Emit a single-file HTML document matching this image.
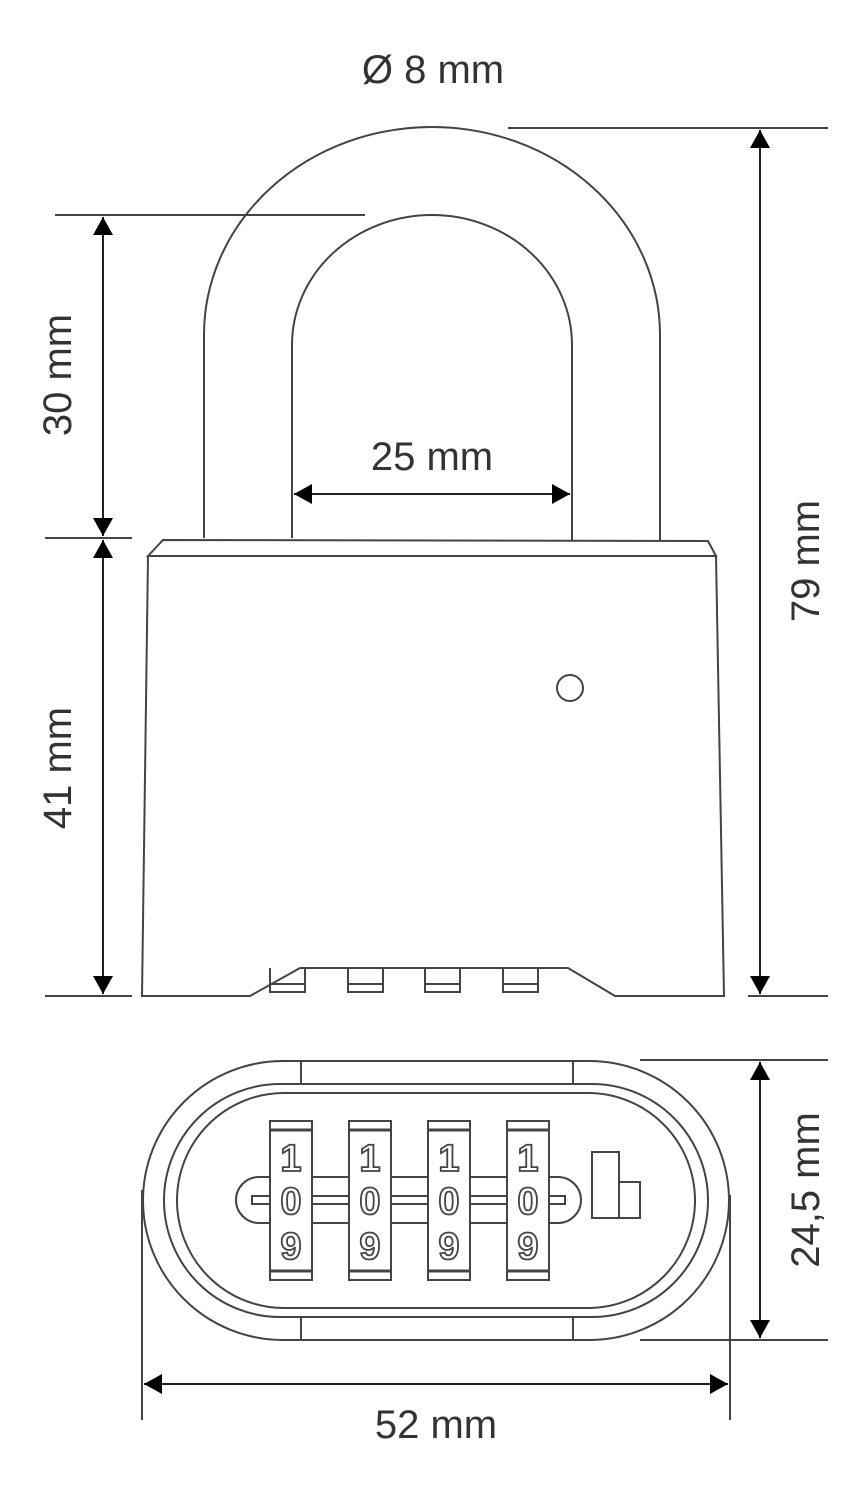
<!DOCTYPE html>
<html><head><style>html,body{margin:0;padding:0;background:#fff}</style></head>
<body>
<svg width="866" height="1500" viewBox="0 0 866 1500" xmlns="http://www.w3.org/2000/svg">
<defs>
<marker id="a" viewBox="0 0 18 20" refX="18" refY="10" markerWidth="18" markerHeight="20" markerUnits="userSpaceOnUse" orient="auto-start-reverse"><path d="M0,0 L18,10 L0,20 z" fill="#000"/></marker>
</defs>
<g fill="none" stroke="#444" stroke-width="2">
<path d="M204,538 L204,335 A228,208 0 0 1 660,335 L660,540"/>
<path d="M292,538 L292,345 A140,130 0 0 1 572,345 L572,540"/>
<path d="M148,556 L163,540 L708,541 L716,556 Z"/>
<path d="M148,556 L142,996 L250,996 L300,968 L568,968 L615,996 L724,996 L716,556"/>
<path d="M270,968 L270,992 L305,992 L305,968 M270,984 L305,984"/>
<path d="M348,968 L348,992 L383,992 L383,968 M348,984 L383,984"/>
<path d="M425,968 L425,992 L460,992 L460,968 M425,984 L460,984"/>
<path d="M503,968 L503,992 L538,992 L538,968 M503,984 L538,984"/>
<circle cx="570" cy="688" r="13"/>
<rect x="143" y="1061" width="586" height="279" rx="140" ry="139.5"/>
<rect x="164" y="1084" width="544" height="233" rx="116" ry="116.5"/>
<rect x="177" y="1093" width="518" height="215" rx="107" ry="107.5"/>
<path d="M301,1061 L301,1084 M573,1061 L573,1084 M301,1317 L301,1340 M573,1317 L573,1340"/>
<rect x="236" y="1177" width="345" height="46" rx="23"/>
<path d="M252,1196 L565,1196 L565,1204 L252,1204 Z"/>
<rect x="592" y="1152" width="27" height="66"/>
<path d="M619,1182 L640,1182 L640,1218 L619,1218"/>
<g>
<rect x="270" y="1121" width="42" height="159" fill="#fff"/>
<rect x="349" y="1121" width="42" height="159" fill="#fff"/>
<rect x="428" y="1121" width="42" height="159" fill="#fff"/>
<rect x="507" y="1121" width="42" height="159" fill="#fff"/>
</g>
<path d="M270,1130 L312,1130 M349,1130 L391,1130 M428,1130 L470,1130 M507,1130 L549,1130 M270,1271 L312,1271 M349,1271 L391,1271 M428,1271 L470,1271 M507,1271 L549,1271" stroke-width="3"/>
<path d="M508,128 L828,128 M748,996 L828,996"/>
<path d="M55,215 L365,215 M45,538 L132,538 M45,996 L132,996"/>
<path d="M640,1060 L828,1060 M640,1340 L828,1340"/>
<path d="M142,1190 L142,1420 M730,1195 L730,1420"/>
</g>
<g stroke="#222" stroke-width="2" fill="none">
<line x1="760" y1="130" x2="760" y2="994" marker-start="url(#a)" marker-end="url(#a)"/>
<line x1="103" y1="217" x2="103" y2="536" marker-start="url(#a)" marker-end="url(#a)"/>
<line x1="103" y1="540" x2="103" y2="994" marker-start="url(#a)" marker-end="url(#a)"/>
<line x1="294" y1="494" x2="570" y2="494" marker-start="url(#a)" marker-end="url(#a)"/>
<line x1="760" y1="1062" x2="760" y2="1338" marker-start="url(#a)" marker-end="url(#a)"/>
<line x1="144" y1="1384" x2="728" y2="1384" marker-start="url(#a)" marker-end="url(#a)"/>
</g>
<g font-family="Liberation Sans, sans-serif" fill="#333" font-size="40" text-anchor="middle">
<text x="433" y="83">Ø 8 mm</text>
<text x="432" y="470">25 mm</text>
<text x="436" y="1438">52 mm</text>
<text transform="translate(71,375) rotate(-90)">30 mm</text>
<text transform="translate(71,768) rotate(-90)">41 mm</text>
<text transform="translate(819,561) rotate(-90)">79 mm</text>
<text transform="translate(819,1190) rotate(-90)">24,5 mm</text>
</g>
<g font-family="Liberation Sans, sans-serif" font-size="38" font-weight="bold" text-anchor="middle" fill="#fff" stroke="#444" stroke-width="1.8">
<text x="291" y="1171">1</text><text x="291" y="1214">0</text><text x="291" y="1259">9</text>
<text x="370" y="1171">1</text><text x="370" y="1214">0</text><text x="370" y="1259">9</text>
<text x="449" y="1171">1</text><text x="449" y="1214">0</text><text x="449" y="1259">9</text>
<text x="528" y="1171">1</text><text x="528" y="1214">0</text><text x="528" y="1259">9</text>
</g>
</svg>
</body></html>
